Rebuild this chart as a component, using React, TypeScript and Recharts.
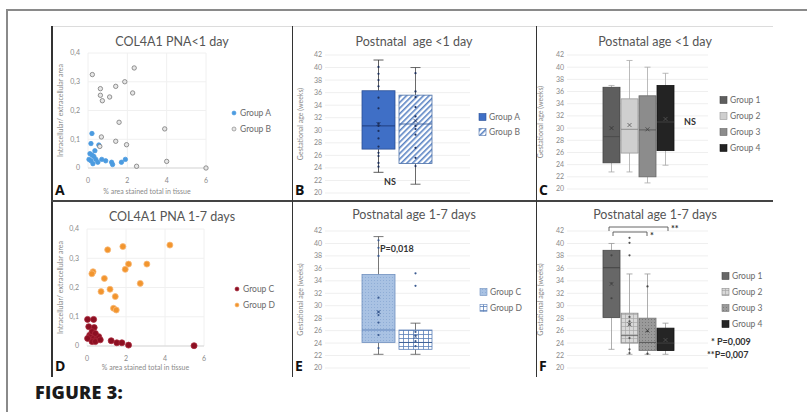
import React from 'react';
import { ScatterChart, Scatter, ComposedChart, Bar, XAxis, YAxis, CartesianGrid } from 'recharts';

const FONT = 'Lato, "Open Sans", sans-serif';

// Panel A - COL4A1 PNA<1 day
const groupAPoints = [
  { x: 0.2, y: 0.12 }, { x: 0.15, y: 0.085 }, { x: 0.55, y: 0.08 }, { x: 0.35, y: 0.06 },
  { x: 0.1, y: 0.05 }, { x: 0.2, y: 0.045 }, { x: 0.3, y: 0.04 }, { x: 0.4, y: 0.03 },
  { x: 0.05, y: 0.03 }, { x: 0.15, y: 0.025 }, { x: 0.5, y: 0.02 }, { x: 0.7, y: 0.03 },
  { x: 0.9, y: 0.025 }, { x: 1.2, y: 0.02 }, { x: 1.25, y: 0.012 }, { x: 1.7, y: 0.02 },
  { x: 1.9, y: 0.03 }, { x: 0.25, y: 0.015 },
];
const groupBPoints = [
  { x: 0.22, y: 0.325 }, { x: 0.63, y: 0.276 }, { x: 0.63, y: 0.253 }, { x: 0.73, y: 0.234 },
  { x: 1.1, y: 0.247 }, { x: 1.41, y: 0.284 }, { x: 1.87, y: 0.3 }, { x: 2.35, y: 0.348 },
  { x: 2.27, y: 0.261 }, { x: 1.58, y: 0.159 }, { x: 0.68, y: 0.108 }, { x: 1.41, y: 0.093 },
  { x: 1.96, y: 0.081 }, { x: 3.9, y: 0.136 }, { x: 4.0, y: 0.023 }, { x: 2.47, y: 0.006 },
  { x: 6.0, y: 0.0 }, { x: 0.6, y: 0.075 },
];

// Panel D - COL4A1 PNA 1-7 days
const groupCPoints = [
  { x: 0.03, y: 0.091 }, { x: 0.34, y: 0.091 }, { x: 0.09, y: 0.066 }, { x: 0.37, y: 0.063 },
  { x: 0.14, y: 0.037 }, { x: 0.17, y: 0.032 }, { x: 0.34, y: 0.026 }, { x: 0.51, y: 0.026 },
  { x: 0.6, y: 0.032 }, { x: 0.26, y: 0.015 }, { x: 0.43, y: 0.015 }, { x: 0.68, y: 0.021 },
  { x: 1.24, y: 0.018 }, { x: 1.53, y: 0.011 }, { x: 1.79, y: 0.011 }, { x: 2.13, y: 0.003 },
  { x: 5.49, y: 0.001 }, { x: 0.26, y: 0.049 }, { x: 0.43, y: 0.043 }, { x: 0.03, y: 0.026 },
];
const groupDPoints = [
  { x: 0.31, y: 0.254 }, { x: 0.25, y: 0.247 }, { x: 1.06, y: 0.329 }, { x: 1.84, y: 0.34 },
  { x: 4.25, y: 0.345 }, { x: 1.96, y: 0.262 }, { x: 2.13, y: 0.28 }, { x: 3.07, y: 0.28 },
  { x: 2.73, y: 0.214 }, { x: 0.89, y: 0.231 }, { x: 0.72, y: 0.186 }, { x: 1.18, y: 0.194 },
  { x: 1.45, y: 0.169 }, { x: 1.36, y: 0.129 }, { x: 1.5, y: 0.123 },
];

const scatterTicksX = [0, 2, 4, 6];
const scatterTicksY = [0, 0.1, 0.2, 0.3, 0.4];
const ageTicks = [20, 22, 24, 26, 28, 30, 32, 34, 36, 38, 40, 42];

// Panel B - Postnatal age <1 day, groups A/B
const bGroups = ['Group A', 'Group B'];
const bMin = [23.3, 21.4];
const bQ1 = [27.0, 24.7];
const bMedian = [30.7, 31.0];
const bQ3 = [36.3, 35.6];
const bMax = [41.2, 40.0];
const bMean = [31.0, 31.5];
const bPoints = [
  [40.1, 39, 38, 37, 35.2, 33.5, 31.1, 30.7, 29.9, 28.7, 27.4, 26.4, 25.9, 24.8, 24.2],
  [39.1, 36.2, 35.3, 33.7, 32.2, 30.7, 30.2, 29.3, 27.2, 25.6, 24.3],
];

// Panel C - Postnatal age <1 day, groups 1-4
const cGroups = ['Group 1', 'Group 2', 'Group 3', 'Group 4'];
const cMin = [22.8, 22.8, 21.0, 23.9];
const cQ1 = [24.3, 25.9, 22.0, 26.3];
const cMedian = [28.6, 29.8, 29.7, 31.0];
const cQ3 = [36.7, 34.8, 35.3, 37.0];
const cMax = [37.0, 41.1, 40.0, 39.0];
const cMean = [30.0, 30.5, 29.8, 31.5];

// Panel E - Postnatal age 1-7 days, groups C/D
const eGroups = ['Group C', 'Group D'];
const eMin = [22.2, 22.2];
const eQ1 = [24.1, 23.0];
const eMedian = [26.1, 24.1];
const eQ3 = [35.0, 26.1];
const eMax = [41.1, 27.2];
const eMean = [29.0, 25.0];
const ePoints = [
  [40.5, 39.3, 38, 31.3, 29, 28.5, 27.3, 25.3, 23.2],
  [35.2, 33.2, 25.8, 25.2, 24.3, 23.5],
];

// Panel F - Postnatal age 1-7 days, groups 1-4
const fGroups = ['Group 1', 'Group 2', 'Group 3', 'Group 4'];
const fMin = [23.0, 22.2, 22.2, 22.2];
const fQ1 = [28.1, 24.0, 22.8, 22.8];
const fMedian = [36.1, 25.2, 24.1, 24.0];
const fQ3 = [38.9, 28.8, 28.0, 26.4];
const fMax = [40.0, 35.1, 35.1, 27.2];
const fMean = [33.5, 27.0, 26.0, 24.5];
const fPoints = [
  [38.1, 33.6, 31.2],
  [40.9, 40.1, 38.1, 28.2, 27.5, 27.0, 24.8, 23.0, 22.4],
  [33.1, 25.9, 22.3],
  [],
];

const boxTable = (names: string[], min: number[], q1: number[], med: number[], q3: number[], max: number[], mean: number[], pts?: number[][]) =>
  names.map((name, i) => ({
    name,
    box: [q1[i], q3[i]],
    min: min[i],
    median: med[i],
    max: max[i],
    mean: mean[i],
    points: pts ? pts[i] : [],
  }));

type BoxStyle = { fill: string; stroke: string; whisker: string; dot: string; median: string };

const makeBoxShape = (names: string[], styles: BoxStyle[], capW: number) => (p: any) => {
  const { x, y, width, height, payload } = p;
  const idx = p.index != null ? p.index : names.indexOf(payload.name);
  const st = styles[idx] || styles[0];
  const top = Math.min(y, y + height);
  const bot = Math.max(y, y + height);
  const [q1, q3] = payload.box;
  const ppu = (bot - top) / (q3 - q1);
  const yOf = (v: number) => top + (q3 - v) * ppu;
  const cx = x + width / 2;
  const yMax = yOf(payload.max);
  const yMin = yOf(payload.min);
  const ym = yOf(payload.mean);
  return (
    <g>
      <line x1={cx} x2={cx} y1={yMax} y2={top} stroke={st.whisker} strokeWidth={0.8} />
      <line x1={cx} x2={cx} y1={bot} y2={yMin} stroke={st.whisker} strokeWidth={0.8} />
      <line x1={cx - capW / 2} x2={cx + capW / 2} y1={yMax} y2={yMax} stroke={st.whisker} strokeWidth={0.8} />
      <line x1={cx - capW / 2} x2={cx + capW / 2} y1={yMin} y2={yMin} stroke={st.whisker} strokeWidth={0.8} />
      <rect x={x} y={top} width={width} height={bot - top} fill={st.fill} stroke={st.stroke} strokeWidth={0.8} />
      <line x1={x} x2={x + width} y1={yOf(payload.median)} y2={yOf(payload.median)} stroke={st.median} strokeWidth={0.9} />
      {payload.points.map((v: number, i: number) => (
        <circle key={i} cx={cx} cy={yOf(v)} r={1.1} fill={st.dot} />
      ))}
      <path d={`M${cx - 2} ${ym - 2}L${cx + 2} ${ym + 2}M${cx + 2} ${ym - 2}L${cx - 2} ${ym + 2}`} stroke={st.dot} strokeWidth={0.8} />
    </g>
  );
};

const commaFmt = (v: number) => (v === 0 ? '0' : String(v).replace('.', ','));

const titleStyle = { fontFamily: FONT, fontSize: 12.5, fill: '#555', whiteSpace: 'pre' as const };
const tickStyle = { fontSize: 7, fill: '#8a8a8a', fontFamily: FONT };
const smallLabel = { fontFamily: FONT, fontSize: 7, fill: '#8a8a8a' };
const legendText = { fontFamily: FONT, fontSize: 8.5, fill: '#6a6a6a' };
const letterStyle = { fontFamily: '"Open Sans", Lato, sans-serif', fontSize: 14, fontWeight: 700, fill: '#111' };

type ScatterPanelProps = {
  left: number; top: number; w: number; h: number;
  plotLeft: number; plotRight: number; plotTop: number; plotBottom: number;
  title: string; titleY: number; letter: string;
  series: { name: string; data: { x: number; y: number }[]; fill: string; stroke: string; r: number }[];
  legendX: number; legendY: number;
};

function ScatterPanel(props: ScatterPanelProps) {
  const { left, top, w, h, plotLeft, plotRight, plotTop, plotBottom, title, titleY, letter, series, legendX, legendY } = props;
  const yW = 26;
  const xH = 20;
  return (
    <div style={{ position: 'absolute', left, top }}>
      <ScatterChart width={w} height={h} margin={{ left: plotLeft - yW, right: w - plotRight, top: plotTop, bottom: h - plotBottom - xH }}>
        <CartesianGrid stroke="#f0f0f0" />
        <XAxis type="number" dataKey="x" domain={[0, 6]} ticks={scatterTicksX} height={xH}
          tick={tickStyle} tickLine={false} tickSize={0} tickMargin={10} axisLine={{ stroke: '#d9d9d9' }} />
        <YAxis type="number" dataKey="y" domain={[0, 0.4]} ticks={scatterTicksY} width={yW}
          tick={tickStyle} tickLine={false} tickSize={0} tickMargin={8} axisLine={false} tickFormatter={commaFmt} />
        {series.map((s) => (
          <Scatter key={s.name} name={s.name} data={s.data} isAnimationActive={false}
            shape={(p: any) => <circle cx={p.cx} cy={p.cy} r={s.r} fill={s.fill} stroke={s.stroke} strokeWidth={0.8} />} />
        ))}
        <text x={w / 2} y={titleY} textAnchor="middle" style={titleStyle}>{title}</text>
        <text x={(plotLeft + plotRight) / 2} y={h - 6} textAnchor="middle" style={smallLabel}>% area stained total in tissue</text>
        <text transform={`translate(10 ${(plotTop + plotBottom) / 2}) rotate(-90)`} textAnchor="middle" style={smallLabel}>Intracellular/ extracellular area</text>
        {series.map((s, i) => (
          <g key={s.name}>
            <circle cx={legendX} cy={legendY + i * 16} r={2} fill={s.fill} stroke={s.stroke} strokeWidth={0.6} />
            <text x={legendX + 6} y={legendY + i * 16 + 3} style={legendText}>{s.name}</text>
          </g>
        ))}
        <text x={2} y={h - 5} style={letterStyle}>{letter}</text>
      </ScatterChart>
    </div>
  );
}

type BoxPanelProps = {
  left: number; top: number; w: number; h: number;
  plotLeft: number; plotRight: number; plotTop: number; plotBottom: number;
  padL: number; padR: number; barSize: number; capW: number;
  data: any[]; names: string[]; styles: BoxStyle[]; swatches: string[];
  title: string; titleY: number; letter: string; yLabelX: number;
  legendX: number; legendY: number; legendStep: number;
  defs?: React.ReactNode; extra?: React.ReactNode;
};

function BoxPanel(props: BoxPanelProps) {
  const { left, top, w, h, plotLeft, plotRight, plotTop, plotBottom, padL, padR, barSize, capW, data, names, styles, swatches,
    title, titleY, letter, yLabelX, legendX, legendY, legendStep, defs, extra } = props;
  const yW = 20;
  return (
    <div style={{ position: 'absolute', left, top }}>
      <ComposedChart width={w} height={h} data={data}
        margin={{ left: plotLeft - yW, right: w - plotRight, top: plotTop, bottom: h - plotBottom }}>
        <defs>{defs}</defs>
        <CartesianGrid stroke="#efefef" vertical={false} />
        <XAxis dataKey="name" hide padding={{ left: padL, right: padR }} />
        <YAxis domain={[20, 42]} ticks={ageTicks} width={yW} tick={tickStyle} tickLine={false} tickSize={0}
          tickMargin={3} axisLine={false} interval={0} />
        <Bar dataKey="box" barSize={barSize} isAnimationActive={false} shape={makeBoxShape(names, styles, capW)} />
        <text x={w / 2} y={titleY} textAnchor="middle" style={titleStyle}>{title}</text>
        <text transform={`translate(${yLabelX} ${(plotTop + plotBottom) / 2}) rotate(-90)`} textAnchor="middle" style={smallLabel}>Gestational age (weeks)</text>
        {names.map((n, i) => (
          <g key={n}>
            <rect x={legendX} y={legendY + i * legendStep - 3.5} width={7} height={7} fill={swatches[i]} stroke={styles[i].stroke} strokeWidth={0.6} />
            <text x={legendX + 10} y={legendY + i * legendStep + 3} style={legendText}>{n}</text>
          </g>
        ))}
        {extra}
        <text x={2} y={h - 5} style={letterStyle}>{letter}</text>
      </ComposedChart>
    </div>
  );
}

const bStyles: BoxStyle[] = [
  { fill: '#3f6fc6', stroke: '#2a4f95', whisker: '#333', dot: '#1c2f5c', median: '#1e3a78' },
  { fill: 'url(#hatchB)', stroke: '#4a6fa8', whisker: '#444', dot: '#1c2f5c', median: '#3a5f9a' },
];
const cStyles: BoxStyle[] = [
  { fill: '#5e5e5e', stroke: '#444', whisker: '#aaa', dot: '#333', median: '#4a4a4a' },
  { fill: '#cfcfcf', stroke: '#999', whisker: '#aaa', dot: '#555', median: '#888' },
  { fill: '#8c8c8c', stroke: '#666', whisker: '#aaa', dot: '#444', median: '#555' },
  { fill: '#232323', stroke: '#111', whisker: '#aaa', dot: '#555', median: '#444' },
];
const eStyles: BoxStyle[] = [
  { fill: 'url(#dotE)', stroke: '#6f8fbf', whisker: '#555', dot: '#3a5a90', median: '#5a7fb8' },
  { fill: 'url(#gridE)', stroke: '#5a7fb8', whisker: '#555', dot: '#3a5a90', median: '#3a5a90' },
];
const fStyles: BoxStyle[] = [
  { fill: '#676767', stroke: '#4a4a4a', whisker: '#999', dot: '#444', median: '#3f3f3f' },
  { fill: 'url(#gridF)', stroke: '#8a8a8a', whisker: '#999', dot: '#555', median: '#666' },
  { fill: 'url(#dotF)', stroke: '#777', whisker: '#999', dot: '#444', median: '#555' },
  { fill: '#252525', stroke: '#111', whisker: '#999', dot: '#555', median: '#444' },
];

const boldNote = { fontFamily: FONT, fontSize: 9, fontWeight: 700, fill: '#333' };

export default function App() {
  const bData = boxTable(bGroups, bMin, bQ1, bMedian, bQ3, bMax, bMean, bPoints);
  const cData = boxTable(cGroups, cMin, cQ1, cMedian, cQ3, cMax, cMean);
  const eData = boxTable(eGroups, eMin, eQ1, eMedian, eQ3, eMax, eMean, ePoints);
  const fData = boxTable(fGroups, fMin, fQ1, fMedian, fQ3, fMax, fMean, fPoints);

  const line = (l: number, t: number, w: number, h: number, c: string) => (
    <div style={{ position: 'absolute', left: l, top: t, width: w, height: h, background: c }} />
  );

  return (
    <div style={{ position: 'absolute', left: 0, top: 0, width: 807, height: 412, background: '#fff', overflow: 'hidden', fontFamily: FONT }}>
      {line(7, 9, 800, 2, '#8a8a8a')}
      {line(6, 9, 2, 403, '#8a8a8a')}
      {line(51, 26, 722, 1, '#dcdcdc')}
      {line(51, 26, 1.5, 351, '#333')}
      {line(51, 200, 722, 1.5, '#444')}
      {line(291.5, 26, 1.5, 351, '#333')}
      {line(535.5, 26, 1.5, 351, '#333')}

      <ScatterPanel left={53} top={27} w={238} h={173} plotLeft={35} plotRight={153} plotTop={26} plotBottom={141}
        title="COL4A1 PNA<1 day" titleY={19} letter="A" legendX={181} legendY={86}
        series={[
          { name: 'Group A', data: groupAPoints, fill: '#4b9be0', stroke: '#4b9be0', r: 2.2 },
          { name: 'Group B', data: groupBPoints, fill: '#e6e6e6', stroke: '#7a7a7a', r: 2.2 },
        ]} />

      <ScatterPanel left={53} top={202} w={238} h={174} plotLeft={34} plotRight={151} plotTop={27} plotBottom={144}
        title="COL4A1 PNA 1-7 days" titleY={19} letter="D" legendX={184} legendY={87}
        series={[
          { name: 'Group C', data: groupCPoints, fill: '#8c0f22', stroke: '#a8283a', r: 3 },
          { name: 'Group D', data: groupDPoints, fill: '#f2952e', stroke: '#f7b979', r: 3 },
        ]} />

      <BoxPanel left={293} top={27} w={242} h={173} plotLeft={32} plotRight={177} plotTop={28} plotBottom={166}
        padL={35} padR={36} barSize={33} capW={10} data={bData} names={bGroups} styles={bStyles}
        swatches={['#3f6fc6', 'url(#hatchB)']} title="Postnatal  age <1 day" titleY={19} letter="B" yLabelX={10}
        legendX={186} legendY={90} legendStep={15}
        defs={
          <pattern id="hatchB" width="4" height="4" patternUnits="userSpaceOnUse" patternTransform="rotate(45)">
            <rect width="4" height="4" fill="#ffffff" />
            <rect width="1.6" height="4" fill="#5b84c4" />
          </pattern>
        }
        extra={<text x={97} y={158} textAnchor="middle" style={boldNote}>NS</text>} />

      <BoxPanel left={537} top={27} w={236} h={173} plotLeft={30} plotRight={171} plotTop={28} plotBottom={162}
        padL={35} padR={34} barSize={17} capW={6} data={cData} names={cGroups} styles={cStyles}
        swatches={cStyles.map((s) => s.fill)} title="Postnatal age <1 day" titleY={19} letter="C" yLabelX={6}
        legendX={183} legendY={73} legendStep={16}
        extra={<text x={153} y={98} textAnchor="middle" style={boldNote}>NS</text>} />

      <BoxPanel left={293} top={202} w={242} h={174} plotLeft={32} plotRight={177} plotTop={29} plotBottom={166}
        padL={35} padR={36} barSize={33} capW={10} data={eData} names={eGroups} styles={eStyles}
        swatches={['url(#dotE)', 'url(#gridE)']} title="Postnatal age 1-7 days" titleY={17} letter="E" yLabelX={10}
        legendX={187} legendY={90} legendStep={16}
        defs={
          <>
            <pattern id="dotE" width="3" height="3" patternUnits="userSpaceOnUse">
              <rect width="3" height="3" fill="#a9c2e3" />
              <rect width="1" height="1" fill="#8fadd6" />
            </pattern>
            <pattern id="gridE" width="5" height="4" patternUnits="userSpaceOnUse">
              <rect width="5" height="4" fill="#ffffff" />
              <rect width="5" height="0.8" fill="#5a7fb8" />
              <rect width="0.8" height="4" fill="#5a7fb8" />
            </pattern>
          </>
        }
        extra={<text x={87} y={50} style={boldNote}>P=0,018</text>} />

      <BoxPanel left={537} top={202} w={236} h={174} plotLeft={30} plotRight={171} plotTop={29} plotBottom={166}
        padL={35} padR={34} barSize={17} capW={6} data={fData} names={fGroups} styles={fStyles}
        swatches={fStyles.map((s) => s.fill)} title="Postnatal age 1-7 days" titleY={17} letter="F" yLabelX={6}
        legendX={185} legendY={74} legendStep={16}
        defs={
          <>
            <pattern id="gridF" width="4" height="4" patternUnits="userSpaceOnUse">
              <rect width="4" height="4" fill="#d9d9d9" />
              <rect width="4" height="0.7" fill="#a8a8a8" />
              <rect width="0.7" height="4" fill="#a8a8a8" />
            </pattern>
            <pattern id="dotF" width="3" height="3" patternUnits="userSpaceOnUse">
              <rect width="3" height="3" fill="#9a9a9a" />
              <rect width="1" height="1" fill="#7a7a7a" />
            </pattern>
          </>
        }
        extra={
          <g>
            <path d="M72 29 L72 25 L131 25 L131 29" fill="none" stroke="#555" strokeWidth={0.9} />
            <path d="M76 34 L76 30 L110 30 L110 34" fill="none" stroke="#555" strokeWidth={0.9} />
            <text x={134} y={30} style={boldNote}>**</text>
            <text x={113} y={37} style={boldNote}>*</text>
            <text x={174} y={143} style={boldNote}>*  P=0,009</text>
            <text x={170} y={156} style={boldNote}>**P=0,007</text>
          </g>
        } />

      <div style={{ position: 'absolute', left: 35, top: 380, fontFamily: '"Open Sans", Lato, sans-serif', fontWeight: 800, fontSize: 18, lineHeight: '24px', color: '#1a1a1a', letterSpacing: 0.3 }}>
        FIGURE 3:
      </div>
    </div>
  );
}
